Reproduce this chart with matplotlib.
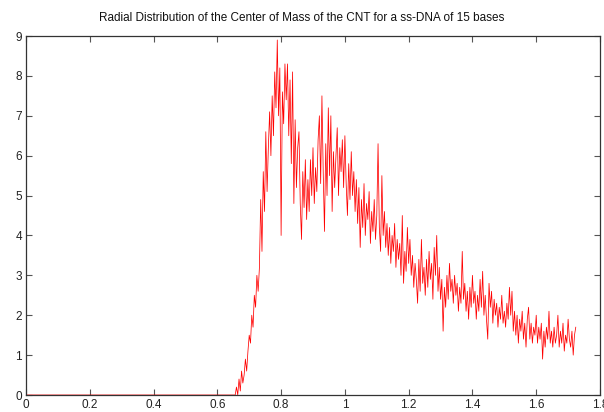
import numpy as np
import matplotlib
matplotlib.use("Agg")
import matplotlib.pyplot as plt

plt.rcParams['font.family'] = ['Liberation Sans', 'DejaVu Sans']

title = "Radial Distribution of the Center of Mass of the CNT for a ss-DNA of 15 bases"

# radial bins (step 0.004), density is zero below r = 0.656
r_step = 0.004
n_zero = 164  # bins 0.000 .. 0.652 have zero density

density_values = [
    # 0.656 - 0.692
    0.0, 0.2, 0.0, 0.4, 0.1, 0.6, 0.3, 0.5, 0.9, 0.6,
    # 0.696 - 0.732
    1.1, 1.5, 1.3, 2.0, 1.7, 2.5, 2.2, 3.0, 2.6, 3.2,
    # 0.736 - 0.772
    4.9, 3.6, 5.6, 4.6, 6.6, 5.1, 6.2, 7.1, 6.0, 7.5,
    # 0.776 - 0.812
    6.5, 8.1, 7.2, 8.9, 7.0, 8.2, 4.0, 7.6, 6.8, 8.3,
    # 0.816 - 0.852
    7.4, 8.3, 6.5, 7.9, 5.8, 8.1, 4.8, 6.9, 5.2, 6.2,
    # 0.856 - 0.892
    6.6, 4.8, 3.9, 5.6, 4.7, 5.9, 4.4, 5.4, 4.6, 5.9,
    # 0.896 - 0.932
    5.0, 6.2, 4.8, 5.7, 5.1, 6.4, 7.0, 5.3, 7.5, 5.6,
    # 0.936 - 0.972
    4.1, 6.3, 5.0, 7.2, 5.5, 7.0, 4.6, 6.1, 5.2, 6.0,
    # 0.976 - 1.012
    6.7, 5.0, 6.2, 5.6, 6.4, 5.2, 6.5, 5.3, 4.5, 5.8,
    # 1.016 - 1.052
    4.9, 6.1, 5.0, 5.6, 4.6, 5.4, 4.3, 5.2, 3.7, 4.9,
    # 1.056 - 1.092
    4.2, 5.3, 4.0, 4.8, 4.4, 5.1, 3.8, 4.6, 4.1, 4.9,
    # 1.096 - 1.132
    3.9, 4.5, 6.3, 4.2, 3.6, 5.5, 4.0, 4.6, 3.7, 4.3,
    # 1.136 - 1.172
    3.5, 4.2, 3.3, 4.0, 3.6, 4.3, 3.2, 3.9, 3.4, 3.8,
    # 1.176 - 1.212
    3.0, 4.5, 2.8, 3.6, 3.1, 4.2, 3.3, 3.9, 3.0, 3.5,
    # 1.216 - 1.252
    2.7, 3.3, 2.9, 2.3, 3.4, 2.6, 3.9, 2.8, 3.2, 2.5,
    # 1.256 - 1.292
    3.4, 2.7, 3.6, 2.9, 3.3, 2.4, 3.7, 3.0, 4.0, 2.6,
    # 1.296 - 1.332
    3.2, 2.4, 2.9, 1.6, 2.7, 2.2, 3.0, 2.4, 3.3, 2.6,
    # 1.336 - 1.372
    2.9, 2.3, 3.0, 2.5, 2.8, 2.1, 2.7, 2.3, 3.6, 2.4,
    # 1.376 - 1.412
    2.8, 2.1, 2.6, 1.9, 2.7, 2.2, 3.0, 2.3, 2.6, 1.9,
    # 1.416 - 1.452
    2.5, 2.1, 2.9, 2.2, 3.1, 2.0, 2.5, 1.9, 1.4, 2.8,
    # 1.456 - 1.492
    2.2, 2.6, 1.8, 2.4, 2.0, 2.3, 1.7, 2.2, 1.9, 2.5,
    # 1.496 - 1.532
    1.8, 2.1, 1.7, 2.3, 1.9, 2.7, 2.0, 2.6, 1.6, 2.1,
    # 1.536 - 1.572
    1.5, 2.0, 1.3, 1.9, 1.6, 2.1, 1.4, 1.8, 1.2, 1.9,
    # 1.576 - 1.612
    2.2, 1.4, 1.8, 1.3, 1.7, 1.5, 2.0, 1.3, 1.7, 1.4,
    # 1.616 - 1.652
    1.8, 0.9, 1.6, 1.2, 1.7, 1.4, 2.1, 1.3, 1.6, 1.2,
    # 1.656 - 1.692
    1.7, 1.3, 1.5, 2.0, 1.2, 1.6, 1.3, 1.8, 1.1, 1.5,
    # 1.696 - 1.724
    1.3, 1.9, 1.4, 1.2, 1.6, 1.0, 1.5, 1.7,
]

x_ticks = [0, 0.2, 0.4, 0.6, 0.8, 1.0, 1.2, 1.4, 1.6, 1.8]
x_tick_labels = ["0", "0.2", "0.4", "0.6", "0.8", "1", "1.2", "1.4", "1.6", "1.8"]
y_ticks = [0, 1, 2, 3, 4, 5, 6, 7, 8, 9]
y_tick_labels = [str(v) for v in y_ticks]

density = np.concatenate([np.zeros(n_zero), np.array(density_values)])
radius = np.round(np.arange(len(density)) * r_step, 3)

fig = plt.figure(figsize=(6.04, 4.12), dpi=100)
ax = fig.add_axes([26/604, 17/412, 574/604, 359/412])

ax.plot(radius, density, color='#ff0000', lw=0.55)

ax.set_xlim(0, 1.8)
ax.set_ylim(0, 9)
ax.set_xticks(x_ticks)
ax.set_xticklabels(x_tick_labels)
ax.set_yticks(y_ticks)
ax.set_yticklabels(y_tick_labels)
ax.tick_params(direction='in', length=4, width=0.8, color='#555555',
               labelsize=8.5, top=True, right=True, pad=3, labelcolor='#222222')
for s in ax.spines.values():
    s.set_linewidth(0.9)
    s.set_color('#333333')

fig.text(0.5, 1 - 18/412, title, ha='center', va='center', fontsize=8.5, color='#111111')

fig.savefig("out.png", dpi=100)
